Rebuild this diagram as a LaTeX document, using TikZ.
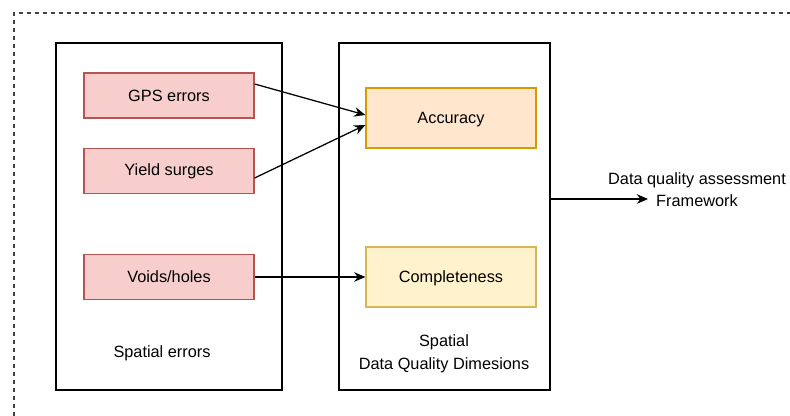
\documentclass[tikz,border=0pt]{standalone}
\usepackage{fontspec}
\setmainfont{Liberation Sans}
\usepackage{tikz}
\usetikzlibrary{arrows.meta, positioning}
\usepackage{xcolor}
\definecolor{errfill} {HTML}{F8CECC}
\definecolor{errline} {HTML}{B85450}
\definecolor{accfill} {HTML}{FFE6CC}
\definecolor{accline} {HTML}{D79B00}
\definecolor{cmpfill} {HTML}{FFF2CC}
\definecolor{cmpline} {HTML}{D6B656}

\begin{document}
\begin{tikzpicture}[
    font=\fontsize{11.6}{16}\selectfont,
    groupbox/.style={draw, line width=0.9pt, minimum height=8.675cm},
    errbox/.style={draw=errline, fill=errfill, line width=0.9pt,
      minimum width=4.25cm, minimum height=1.125cm},
    dimbox/.style={line width=0.9pt, minimum width=4.25cm, minimum height=1.5cm,
      text height=0.3cm, text depth=0.02cm},
    link/.style={-{Stealth[length=0.28cm, width=0.24cm]}, line width=0.9pt}
  ]
        \useasboundingbox (0,0) rectangle (19.75,10.4);

        % Outer frame
        \draw[dash pattern=on 0.1cm off 0.1cm, line width=1pt, black!75]
          (0.35,0) -- (0.35,10.075) -- (19.75,10.075);

        % Group boxes
        \node[groupbox, minimum width=5.65cm]  (errs) at (4.225,4.9875) {};
        \node[groupbox, minimum width=5.275cm] (dims) at (11.1125,4.9875) {};

        % Spatial errors
        \node[errbox] (gps)   at (4.225,8.0125) {GPS errors};
        \node[errbox] (yield) at (4.225,6.125)  {Yield surges};
        \node[errbox] (voids) at (4.225,3.475)  {Voids/holes};
        \node (errlabel) at (4.05,1.575) {Spatial errors};

        % Quality dimensions
        \node[dimbox, draw=accline, fill=accfill] (acc)   at (11.275,7.45)  {Accuracy};
        \node[dimbox, draw=cmpline, fill=cmpfill] (compl) at (11.275,3.475) {Completeness};
        \node[align=center] (dimlabel) at (11.1,1.55) {Spatial\\Data Quality Dimesions};

        % Links
        \draw[link] ([yshift=0.2875cm]gps.east) -- ([yshift=0.075cm]acc.west);
        \draw[link] ([yshift=-0.175cm]yield.east) -- ([yshift=-0.175cm]acc.west);
        \draw[link] (voids.east) -- (compl.west);

        % Output
        \coordinate (fwk) at (16.2,5.425);
        \draw[link] (dims.east |- fwk) -- (fwk);
        \node[align=center] (framework) at (17.425,5.6625)
          {Data quality assessment\\Framework};
      \end{tikzpicture}
\end{document}
